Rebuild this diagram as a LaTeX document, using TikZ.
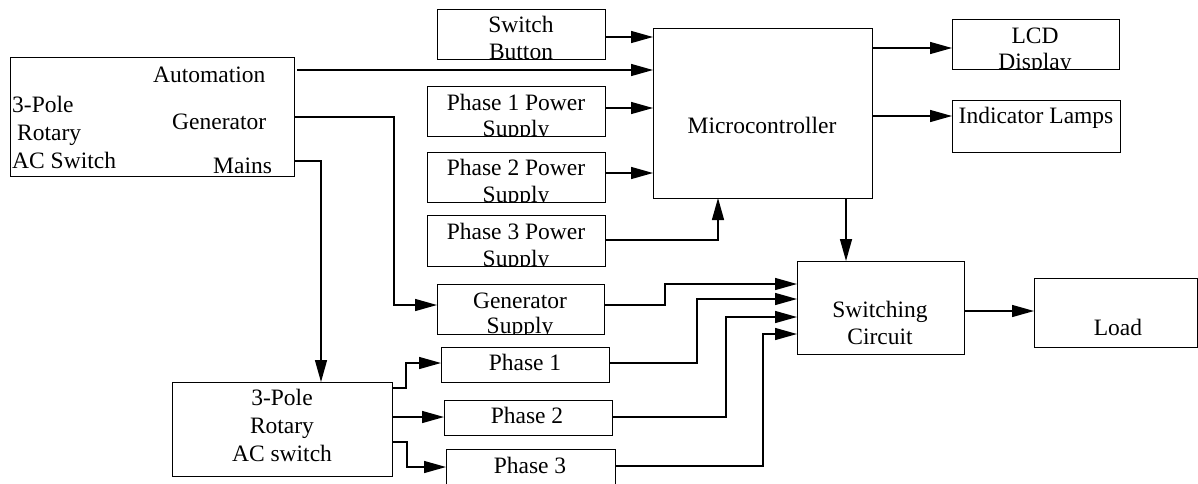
\documentclass[tikz,border=0pt]{standalone}
\usepackage{fontspec}
\setmainfont{Liberation Serif}
\usetikzlibrary{arrows.meta}
\begin{document}
\begin{tikzpicture}[x=1pt,y=-1pt,
  box/.style={draw,line width=1pt,rectangle,inner sep=0pt,outer sep=0pt},
  txt/.style={font=\fontsize{23.5}{26}\selectfont,inner sep=0pt,anchor=base},
  txtw/.style={txt,anchor=base west},
  conn/.style={line width=1.4pt},
  arr/.style={conn,-{Triangle[length=22pt,width=12pt]}}]
\useasboundingbox (0,0) rectangle (1198,483);
% boxes
\node[box,minimum width=284pt,minimum height=119pt] (sw) at (152,116.5) {};
\node[box,minimum width=168pt,minimum height=50pt] (sb) at (521,34) {};
\node[box,minimum width=178pt,minimum height=50pt] (p1s) at (516,111) {};
\node[box,minimum width=178pt,minimum height=50pt] (p2s) at (516,177) {};
\node[box,minimum width=178pt,minimum height=51pt] (p3s) at (516,240.5) {};
\node[box,minimum width=219pt,minimum height=170pt] (mc) at (762.5,113) {};
\node[box,minimum width=167pt,minimum height=50pt] (lcd) at (1035.5,44) {};
\node[box,minimum width=168pt,minimum height=52pt] (ind) at (1036,126) {};
\node[box,minimum width=167pt,minimum height=93pt] (sc) at (880.5,307.5) {};
\node[box,minimum width=163pt,minimum height=69pt] (load) at (1115.5,312.5) {};
\node[box,minimum width=167pt,minimum height=50pt] (gs) at (520.5,309) {};
\node[box,minimum width=168pt,minimum height=35pt] (ph1) at (525,364.5) {};
\node[box,minimum width=168pt,minimum height=35pt] (ph2) at (528,417.5) {};
\node[box,minimum width=169pt,minimum height=36pt] (ph3) at (530.5,467) {};
\node[box,minimum width=220pt,minimum height=94pt] (rs) at (282,429) {};
% texts
\node[txtw] (swt1) at (12,112) {3-Pole};
\node[txtw] (swt2) at (17,140) {Rotary};
\node[txtw] (swt3) at (12,168) {AC Switch};
\node[txtw] (swa) at (153,82) {Automation};
\node[txtw] (swg) at (172,129) {Generator};
\node[txtw] (swm) at (213,173) {Mains};
\node[txt] (sbt1) at (521,32) {Switch};
\begin{scope}\clip (sb.south west) rectangle (sb.north east);
\node[txt] (sbt2) at (521,59) {Button};\end{scope}
\node[txt] (p1t1) at (516,110) {Phase 1 Power};
\begin{scope}\clip (p1s.south west) rectangle (p1s.north east);
\node[txt] (p1t2) at (516,136) {Supply};\end{scope}
\node[txt] (p2t1) at (516,175) {Phase 2 Power};
\begin{scope}\clip (p2s.south west) rectangle (p2s.north east);
\node[txt] (p2t2) at (516,202) {Supply};\end{scope}
\node[txt] (p3t1) at (516,239) {Phase 3 Power};
\begin{scope}\clip (p3s.south west) rectangle (p3s.north east);
\node[txt] (p3t2) at (516,266) {Supply};\end{scope}
\node[txt] (mct) at (762,133) {Microcontroller};
\node[txt] (lcdt1) at (1035,43) {LCD};
\begin{scope}\clip (lcd.south west) rectangle (lcd.north east);
\node[txt] (lcdt2) at (1035,69) {Display};\end{scope}
\node[txt] (indt) at (1036,123) {Indicator Lamps};
\node[txt] (sct1) at (880,317) {Switching};
\node[txt] (sct2) at (880,344) {Circuit};
\node[txt] (loadt) at (1118,335) {Load};
\node[txt] (gst1) at (520,308) {Generator};
\begin{scope}\clip (gs.south west) rectangle (gs.north east);
\node[txt] (gst2) at (520,333) {Supply};\end{scope}
\node[txt] (ph1t) at (525,370) {Phase 1};
\node[txt] (ph2t) at (527,423) {Phase 2};
\node[txt] (ph3t) at (530,473) {Phase 3};
\node[txt] (rst1) at (282,405) {3-Pole};
\node[txt] (rst2) at (282,433) {Rotary};
\node[txt] (rst3) at (282,461) {AC switch};
% connectors
\draw[arr] (sb.east|-0,37) -- (mc.west|-0,37);
\draw[arr] ([xshift=3pt]sw.east|-0,70) -- (mc.west|-0,70);
\draw[arr] (p1s.east|-0,108) -- (mc.west|-0,108);
\draw[arr] (p2s.east|-0,173) -- (mc.west|-0,173);
\draw[arr] (p3s.east|-0,240) -| (mc.south-|718,0);
\draw[arr] (mc.east|-0,48) -- (lcd.west|-0,48);
\draw[arr] (mc.east|-0,116) -- (ind.west|-0,116);
\draw[arr] (mc.south-|846,0) -- (sc.north-|846,0);
\draw[arr] (sw.east|-0,117) -| (394,305) -- (gs.west|-0,305);
\draw[arr] (sw.east|-0,161) -| (rs.north-|321,0);
\draw[arr] (gs.east|-0,305) -| (665,284) -- (sc.west|-0,284);
\draw[arr] (ph1.east|-0,363) -| (697,299) -- (sc.west|-0,299);
\draw[arr] (ph2.east|-0,417) -| (726,317) -- (sc.west|-0,317);
\draw[arr] (ph3.east|-0,466) -| (763,334) -- (sc.west|-0,334);
\draw[arr] (sc.east|-0,311) -- (load.west|-0,311);
\draw[arr] (rs.east|-0,388) -| (406,363) -- (ph1.west|-0,363);
\draw[arr] (rs.east|-0,417) -- (ph2.west|-0,417);
\draw[arr] (rs.east|-0,442) -| (407,467) -- (ph3.west|-0,467);
\end{tikzpicture}
\end{document}
